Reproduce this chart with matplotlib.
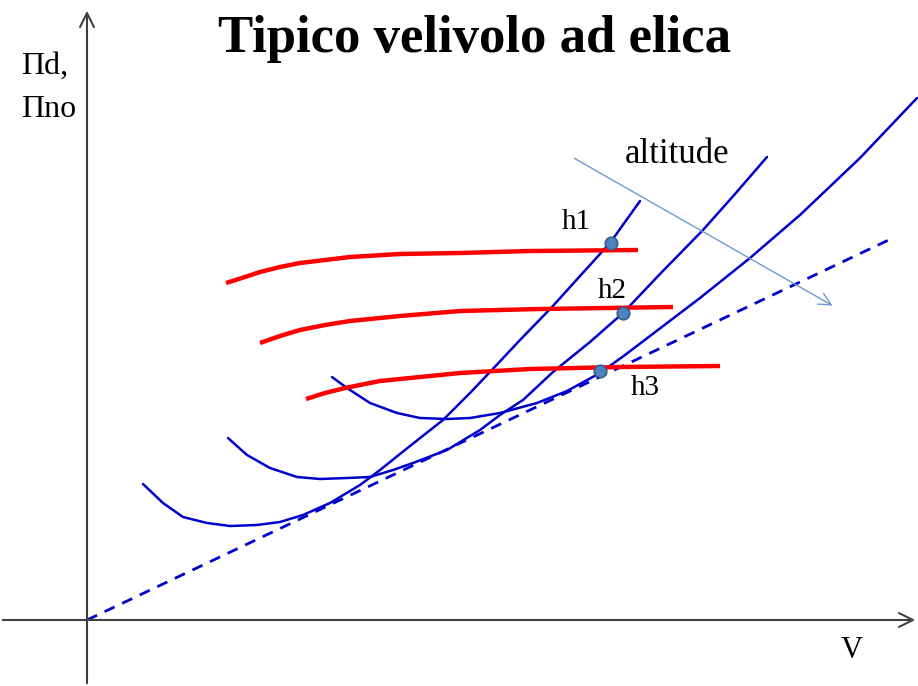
import numpy as np
import matplotlib.pyplot as plt

plt.rcParams['font.family'] = ['Liberation Serif', 'DejaVu Serif']

# power required curves (blue), one per altitude
req_h1_V = [56, 76, 96, 120, 143, 170, 193, 216, 243, 273, 293, 323, 356, 383, 403,
            433, 465, 493, 523, 538, 553]
req_h1_P = [136, 117, 103, 97, 94, 95, 98, 105, 117, 135, 150, 174, 200, 227, 248,
            280, 313, 344, 377, 398, 419]
req_h2_V = [141, 160, 183, 210, 233, 260, 283, 306, 326, 360, 393, 413, 436, 466, 503,
            536, 573, 616, 648, 680]
req_h2_P = [182, 165, 152, 143, 141, 142, 143, 150, 157, 170, 190, 205, 220, 248, 278,
            307, 346, 390, 426, 463]
req_h3_V = [245, 260, 283, 310, 333, 360, 383, 413, 450, 480, 513, 538, 563, 613, 663,
            713, 773, 830]
req_h3_P = [243, 232, 217, 207, 202, 201, 202, 207, 217, 229, 247, 265, 284, 322, 362,
            405, 462, 522]

# power available curves (red)
av_h1_V = [139, 158, 173, 193, 213, 238, 263, 313, 373, 443, 551]
av_h1_P = [337, 343, 348, 353, 357, 360, 363, 366, 367, 369, 370]
av_h2_V = [173, 193, 213, 238, 263, 313, 373, 453, 586]
av_h2_P = [277, 284, 290, 295, 299, 304, 309, 311, 313]
av_h3_V = [219, 238, 258, 293, 343, 373, 443, 533, 633]
av_h3_P = [221, 227, 232, 239, 244, 247, 251, 253, 254]

# tangent from the origin
tang_V = [0, 808]
tang_P = [0, 383]

# max speed points
pt_labels = ['h1', 'h2', 'h3']
pt_V = [524, 536, 513]
pt_P = [377, 307, 249]

fig = plt.figure(figsize=(9.18, 6.86), dpi=100)
ax = fig.add_axes([0, 0, 1, 1])
ax.set_xlim(-87, 831)
ax.set_ylim(-66, 620)
ax.axis('off')

axcol = '#404040'
ax.annotate('', xy=(0, 612), xytext=(0, -66),
            arrowprops=dict(arrowstyle='->', color=axcol, lw=1.5, mutation_scale=25))
ax.annotate('', xy=(831, 0), xytext=(-87, 0),
            arrowprops=dict(arrowstyle='->', color=axcol, lw=1.5, mutation_scale=25))

blue = '#0000CC'
ax.plot(tang_V, tang_P, color=blue, lw=2, ls=(0, (4, 3)))
for V, P in [(req_h1_V, req_h1_P), (req_h2_V, req_h2_P), (req_h3_V, req_h3_P)]:
    ax.plot(V, P, color=blue, lw=1.8, solid_capstyle='round', solid_joinstyle='round')
for V, P in [(av_h1_V, av_h1_P), (av_h2_V, av_h2_P), (av_h3_V, av_h3_P)]:
    ax.plot(V, P, color='#FF0000', lw=3.2, solid_capstyle='butt', solid_joinstyle='round')

ax.plot(pt_V, pt_P, 'o', ms=9, color='#4F81BD', mec='#385D8A', mew=1.2, zorder=5)
lab_pos = [(489, 391), (525, 322), (558, 225)]
for lab, (x, y) in zip(pt_labels, lab_pos):
    ax.text(x, y, lab, fontsize=21, ha='center', va='baseline')

# altitude direction
ax.annotate('', xy=(748, 313), xytext=(485, 463),
            arrowprops=dict(arrowstyle='->', color='#6E9AD2', lw=1, mutation_scale=22))
ax.text(590, 457, 'altitude', fontsize=25, ha='center', va='baseline')

ax.text(-66, 546, 'Πd,', fontsize=23, ha='left', va='baseline')
ax.text(-66, 503, 'Πno', fontsize=23, ha='left', va='baseline')
ax.text(765, -38, 'V', fontsize=22, ha='center', va='baseline')

fig.text(475 / 918, 1 - 52 / 686, 'Tipico velivolo ad elica', fontsize=38,
         fontweight='bold', ha='center', va='baseline')

fig.savefig('out.png', dpi=100)
